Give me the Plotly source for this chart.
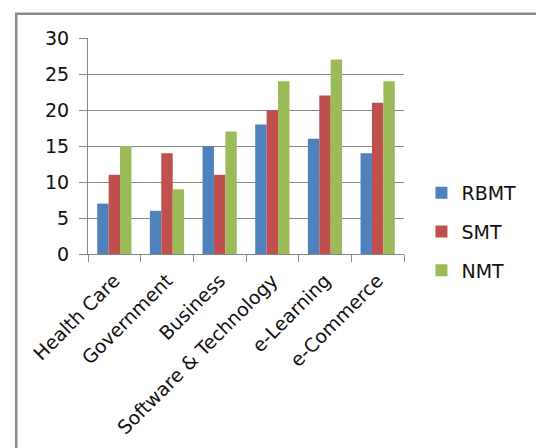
import plotly.graph_objects as go

categories = ["Health Care", "Government", "Business", "Software & Technology", "e-Learning", "e-Commerce"]
series_names = ["RBMT", "SMT", "NMT"]
rbmt = [7, 6, 15, 18, 16, 14]
smt = [11, 14, 11, 20, 22, 21]
nmt = [15, 9, 17, 24, 27, 24]
colors = ["#4F81BD", "#C0504D", "#9BBB59"]
y_ticks = [0, 5, 10, 15, 20, 25, 30]

W, H = 536, 448
L, R, T, B = 87.5, 404.5, 38.3, 254.0
pw, ph = R - L, B - T

fig = go.Figure()
for i, (name, vals) in enumerate(zip(series_names, [rbmt, smt, nmt])):
    fig.add_trace(go.Bar(x=categories, y=vals, name=name, marker=dict(color=colors[i], line=dict(width=0)),
                         legendgroup=name))

font_family = "DejaVu Sans"
grid = "#868686"

def px_x(px):
    return (px - L) / pw

def px_y(py):
    return (B - py) / ph

fig.update_layout(
    width=W, height=H,
    margin=dict(l=L, r=W - R, t=T, b=H - B, pad=0, autoexpand=False),
    paper_bgcolor="white", plot_bgcolor="white",
    barmode="group", bargap=0.35, bargroupgap=0,
    font=dict(family=font_family, size=19, color="#111111"),
    showlegend=True,
    legend=dict(x=px_x(422), y=px_y(174), xanchor="left", yanchor="top",
                font=dict(size=19, family=font_family, color="#111111"),
                tracegroupgap=11, bgcolor="rgba(0,0,0,0)", borderwidth=0),
    xaxis=dict(showline=True, linecolor=grid, linewidth=1, ticks="outside", tickson="boundaries",
               ticklen=7, tickcolor=grid, tickangle=-45, tickfont=dict(size=19),
               showgrid=False, zeroline=False, ticklabelstandoff=7, automargin=False),
    yaxis=dict(range=[0, 30], tickvals=y_ticks, showline=True, linecolor=grid, linewidth=1,
               ticks="outside", ticklen=8, tickcolor=grid, showgrid=True, gridcolor=grid, gridwidth=1,
               zeroline=False, tickfont=dict(size=19), ticklabelstandoff=6, automargin=False),
    shapes=[dict(type="rect", xref="paper", yref="paper",
                 x0=px_x(15.5), x1=px_x(600), y0=px_y(14), y1=px_y(520),
                 line=dict(color="#8a8a8a", width=2.5), fillcolor="rgba(0,0,0,0)", layer="above")],
)

fig.write_html("out.html")
